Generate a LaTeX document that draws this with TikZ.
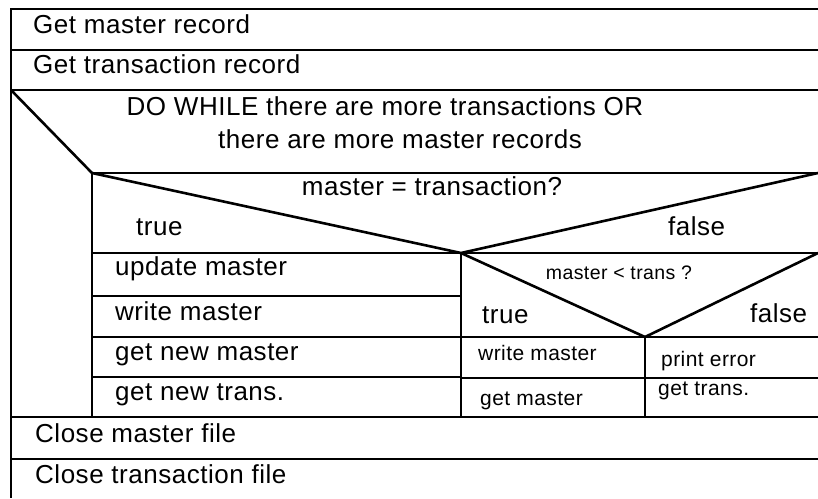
\documentclass[tikz,border=0pt]{standalone}
\usepackage{fontspec}
\newfontfamily\nsfont[LetterSpace=2]{Liberation Sans}
\usetikzlibrary{positioning}

\begin{document}
\begin{tikzpicture}[
    x=1pt, y=-1pt,
    action/.style={anchor=base west, inner sep=0pt, font=\nsfont\fontsize{26}{30}\selectfont},
    smallaction/.style={action, font=\nsfont\fontsize{21}{25}\selectfont},
    header/.style={action, anchor=base},
    frame/.style={line width=1.8pt},
    cut/.style={line width=2.6pt, line join=round},
]
\useasboundingbox (0,0) rectangle (818,498);

% outer frame and sequence rows
\draw[frame] (818,9) -- (11,9) -- (11,498);
\foreach \y in {50,90,417,459}
    \draw[frame] (11,\y) -- (818,\y);

% do while
\coordinate (loop) at (92,173);
\draw[cut] (11,90) -- (loop);
\draw[frame] (loop) -- (818,173);
\draw[frame] (loop) -- (92,417);

% master = transaction?
\coordinate (apex1) at (461,253);
\draw[cut] (loop) -- (apex1) -- (818,173);
\draw[frame] (92,253) -- (818,253);
\foreach \y in {296,337,377}
    \draw[frame] (92,\y) -- (461,\y);
\draw[frame] (apex1) -- (461,417);

% master < trans ?
\coordinate (apex2) at (645,337);
\draw[cut] (apex1) -- (apex2) -- (818,253);
\foreach \y in {337,378}
    \draw[frame] (461,\y) -- (818,\y);
\draw[frame] (apex2) -- (645,417);

% texts
\node[action] (getmaster) at (33,33) {Get master record};
\node[action] (gettrans) at (33,73) {Get transaction record};
\node[header] (while1) at (385,115) {DO WHILE there are more transactions OR};
\node[header] (while2) at (400,148) {there are more master records};
\node[header] (cond1) at (432,195) {master = transaction?};
\node[action] (true1) at (136,235) {true};
\node[action] (false1) at (668,235) {false};
\node[action] (update) at (115,275) {update master};
\node[action] (write) at (115,320) {write master};
\node[action] (newmaster) at (115,360) {get new master};
\node[action] (newtrans) at (115,400) {get new trans.};
\node[header, font=\nsfont\fontsize{19.5}{23}\selectfont] (cond2) at (619,279) {master < trans ?};
\node[action] (true2) at (482,323) {true};
\node[action] (false2) at (750,322) {false};
\node[smallaction] (write2) at (478,360) {write master};
\node[smallaction] (error) at (661,366) {print error};
\node[smallaction] (getm) at (480,405) {get master};
\node[smallaction] (gett) at (658,395) {get trans.};
\node[action] (closem) at (35,442) {Close master file};
\node[action] (closet) at (35,483) {Close transaction file};

\end{tikzpicture}
\end{document}
